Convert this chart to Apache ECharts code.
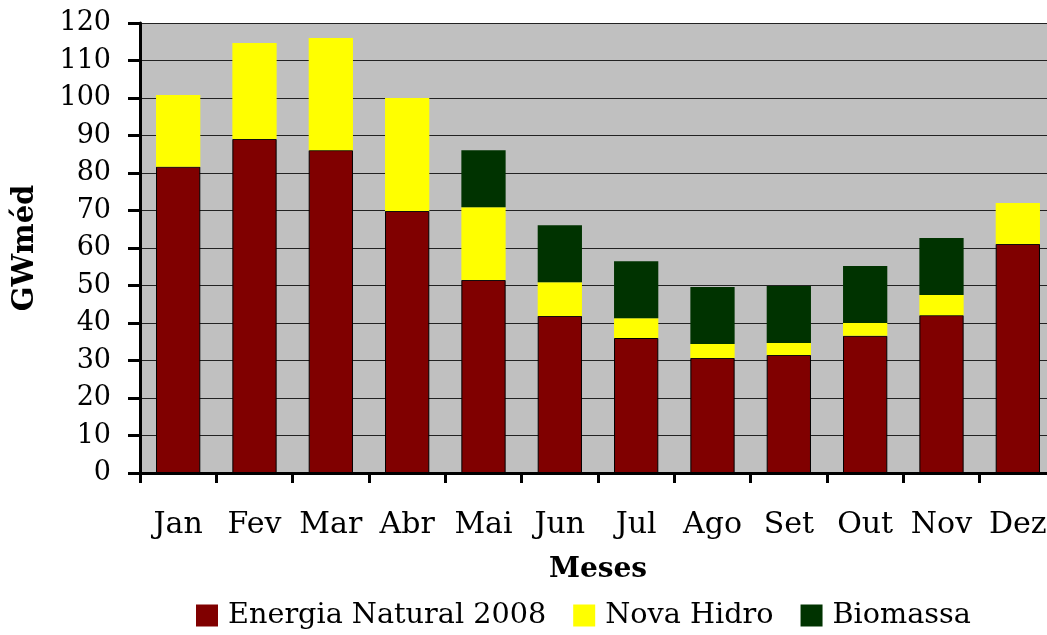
<!DOCTYPE html>
<html>
<head>
<meta charset="utf-8">
<script src="https://cdn.jsdelivr.net/npm/echarts@6/dist/echarts.min.js"></script>
<style>html,body{margin:0;padding:0;background:#fff}#c{width:1047px;height:635px}</style>
</head>
<body>
<div id="c"></div>
<script>
var months = ['Jan','Fev','Mar','Abr','Mai','Jun','Jul','Ago','Set','Out','Nov','Dez'];
var energiaNatural = [81.7, 89.1, 86.1, 69.9, 51.5, 41.9, 36.0, 30.7, 31.5, 36.6, 42.1, 61.1];
var novaHidro = [19.1, 25.6, 29.9, 30.1, 19.4, 9.0, 5.3, 3.7, 3.2, 3.4, 5.4, 10.9];
var biomassa = [0, 0, 0, 0, 15.2, 15.2, 15.2, 15.2, 15.2, 15.2, 15.2, 0];
var yTicks = [0, 10, 20, 30, 40, 50, 60, 70, 80, 90, 100, 110, 120];

var font = '"DejaVu Serif", serif';
var chart = echarts.init(document.getElementById('c'));
chart.setOption({
  animation: false,
  textStyle: {fontFamily: font, color: '#000'},
  grid: {left: 140, width: 916, top: 23, height: 450, outerBoundsMode: 'none', containLabel: false,
         show: true, backgroundColor: '#C0C0C0', borderWidth: 0},
  legend: {
    bottom: 0, left: 191,
    icon: 'rect',
    itemWidth: 22, itemHeight: 22, itemGap: 27,
    itemStyle: {borderWidth: 0},
    textStyle: {fontFamily: font, fontSize: 28.7, color: '#000', padding: [0, 0, 0, 5]},
    data: ['Energia Natural 2008', 'Nova Hidro', 'Biomassa']
  },
  xAxis: {
    type: 'category', data: months,
    name: 'Meses', nameLocation: 'middle', nameGap: 83,
    nameTextStyle: {fontFamily: font, fontSize: 28, fontWeight: 'bold', color: '#000'},
    axisLine: {lineStyle: {color: '#000', width: 3}},
    axisTick: {show: true, length: 10, lineStyle: {color: '#000', width: 3}},
    axisLabel: {fontFamily: font, fontSize: 30, color: '#000', margin: 37, interval: 0}
  },
  yAxis: {
    type: 'value', min: yTicks[0], max: yTicks[yTicks.length - 1], interval: 10,
    name: 'GWméd', nameLocation: 'middle', nameGap: 100,
    nameTextStyle: {fontFamily: font, fontSize: 29, fontWeight: 'bold', color: '#000'},
    axisLine: {show: true, lineStyle: {color: '#000', width: 3}},
    axisTick: {show: true, length: 12, lineStyle: {color: '#000', width: 3}},
    axisLabel: {fontFamily: font, fontSize: 27, color: '#000', margin: 29},
    splitLine: {lineStyle: {color: '#222', width: 1}}
  },
  series: [
    {name: 'Energia Natural 2008', type: 'bar', stack: 't', data: energiaNatural, barWidth: '58%',
     itemStyle: {color: '#800000', borderColor: '#000', borderWidth: 1}},
    {name: 'Nova Hidro', type: 'bar', stack: 't', data: novaHidro, barWidth: '58%',
     itemStyle: {color: '#FFFF00'}},
    {name: 'Biomassa', type: 'bar', stack: 't', data: biomassa, barWidth: '58%',
     itemStyle: {color: '#003300'}}
  ]
});
</script>
</body>
</html>
